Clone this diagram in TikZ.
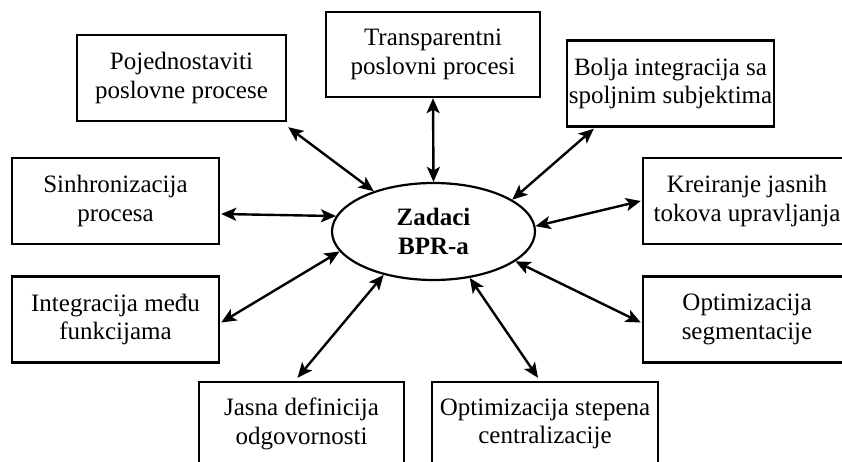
\documentclass[tikz,border=0pt]{standalone}
\usepackage{fontspec}
\setmainfont{Liberation Serif}
\usetikzlibrary{arrows.meta,shapes.geometric}
\begin{document}
\begin{tikzpicture}[x=1pt,y=-1pt,
  goal/.style={draw, line width=2.4pt, align=center, inner sep=0pt,
    font=\fontsize{25}{28.5}\selectfont, minimum height=86pt},
  hub/.style={draw, ellipse, line width=2.2pt, inner sep=0pt, align=center,
    minimum width=203pt, minimum height=97pt,
    font=\fontsize{25}{29}\selectfont\bfseries},
  link/.style={line width=2.4pt, {Stealth[length=15pt,width=13pt,inset=3.5pt]}-{Stealth[length=15pt,width=13pt,inset=3.5pt]}}]
\useasboundingbox (0,0) rectangle (842,462);
\clip (0,0) rectangle (842,462);

% central ellipse
\node[hub] (hub) at (433.5,231.5) {Zadaci\\BPR-a};

% surrounding goals
\node[goal, minimum width=209pt] (b1) at (181.5,78) {Pojednostaviti\\poslovne procese};
\node[goal, minimum width=214pt, minimum height=85pt] (b2) at (433,54.5) {Transparentni\\poslovni procesi};
\node[goal, minimum width=207pt] (b3) at (670.5,83.5) {Bolja integracija sa\\spoljnim subjektima};
\node[goal, minimum width=207pt] (b4) at (115.5,201) {Sinhronizacija\\procesa};
\node[goal, minimum width=208pt] (b5) at (747,201) {Kreiranje jasnih\\tokova upravljanja};
\node[goal, minimum width=207pt] (b6) at (115.5,319.5) {Integracija među\\funkcijama};
\node[goal, minimum width=208pt] (b7) at (747,319.5) {Optimizacija\\segmentacije};
\node[goal, minimum width=205pt, minimum height=84pt] (b8) at (301.5,424) {Jasna definicija\\odgovornosti};
\node[goal, minimum width=226pt, minimum height=84pt] (b9) at (545,424) {Optimizacija stepena\\centralizacije};

% two-way connectors
\draw[link] ([shift={(1,5)}]b1.south east) -- (hub.146);
\draw[link] (b2.south) -- (hub.90);
\draw[link] ([xshift=28pt,yshift=-1pt]b3.south west) -- (hub.22.5);
\draw[link] ([xshift=1pt,yshift=-13pt]b4.east) -- (hub.171);
\draw[link] ([xshift=-1pt]b5.west) -- (hub.3.7);
\draw[link] ([xshift=1pt,yshift=-3pt]b6.east) -- (hub.192.8);
\draw[link] ([xshift=-1pt,yshift=-3pt]b7.west) -- (hub.340);
\draw[link] ([xshift=-4pt,yshift=3pt]b8.north) -- (hub.221.5);
\draw[link] ([xshift=-7pt,yshift=3pt]b9.north) -- (hub.308.4);
\end{tikzpicture}
\end{document}
